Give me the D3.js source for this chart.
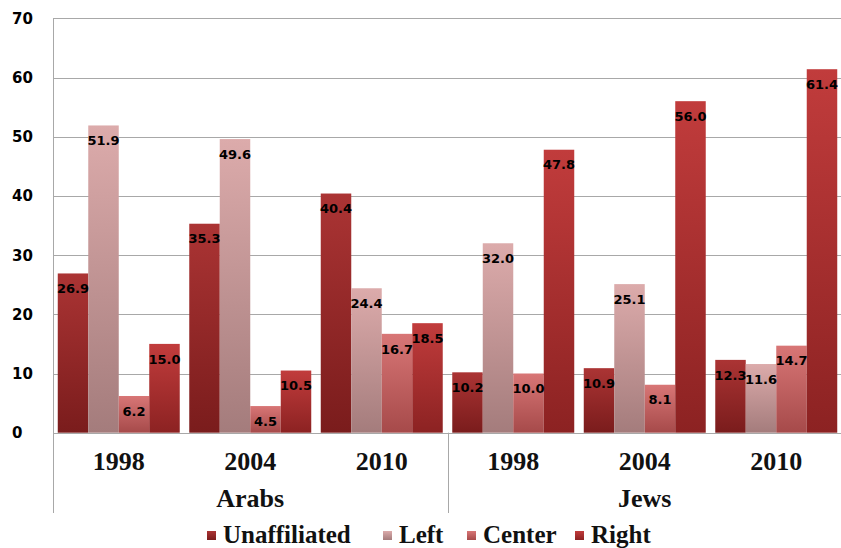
<!DOCTYPE html>
<html>
<head>
<meta charset="utf-8">
<script src="https://cdn.jsdelivr.net/npm/d3@7"></script>
<style>
html,body{margin:0;padding:0;background:#fff;}
svg{display:block;}
</style>
</head>
<body>
<svg id="chart" width="841" height="548"></svg>
<script>
const years = ["1998","2004","2010","1998","2004","2010"];
const populations = ["Arabs","Jews"];
const seriesNames = ["Unaffiliated","Left","Center","Right"];
const unaffiliated = [26.9,35.3,40.4,10.2,10.9,12.3];
const left = [51.9,49.6,24.4,32.0,25.1,11.6];
const center = [6.2,4.5,16.7,10.0,8.1,14.7];
const right = [15.0,10.5,18.5,47.8,56.0,61.4];
const yTicks = [0,10,20,30,40,50,60,70];

const seriesValues = [unaffiliated, left, center, right];
const gradStops = [
  ["#ab3434","#7a1c1c"],
  ["#dcabab","#a47c7c"],
  ["#d87676","#a64a4a"],
  ["#c13c3c","#8c2222"]
];

const svg = d3.select("#chart");
const W = 841, H = 548;
const plotL = 53, plotR = 842, plotT = 18.3, plotB = 432.7;

const x0 = d3.scaleBand().domain(d3.range(years.length)).range([plotL, plotR]).paddingInner(0).paddingOuter(0);
const x1 = d3.scaleBand().domain(seriesNames).range([0, x0.bandwidth()]).paddingInner(0).paddingOuter(0.156);
const y = d3.scaleLinear().domain([0,70]).range([plotB, plotT]);

const defs = svg.append("defs");
seriesNames.forEach((s,i)=>{
  const g = defs.append("linearGradient").attr("id","g"+i).attr("x1",0).attr("y1",0).attr("x2",0).attr("y2",1);
  g.append("stop").attr("offset","0%").attr("stop-color",gradStops[i][0]);
  g.append("stop").attr("offset","100%").attr("stop-color",gradStops[i][1]);
});

svg.append("g").selectAll("line").data(yTicks).join("line")
  .attr("x1", plotL).attr("x2", W)
  .attr("y1", d=>Math.round(y(d))+0.5).attr("y2", d=>Math.round(y(d))+0.5)
  .attr("stroke","#a8a8a8").attr("stroke-width",1);

svg.append("line").attr("x1",plotL+0.5).attr("x2",plotL+0.5).attr("y1",plotT).attr("y2",513)
  .attr("stroke","#a8a8a8");
const sepX = x0(3);
svg.append("line").attr("x1",Math.round(sepX)+0.5).attr("x2",Math.round(sepX)+0.5).attr("y1",plotB).attr("y2",513)
  .attr("stroke","#a8a8a8");

svg.append("g").selectAll("text").data(yTicks).join("text")
  .attr("x", 12).attr("y", d=>y(d))
  .attr("dy","0.36em")
  .attr("font-family","'DejaVu Sans', Verdana, sans-serif")
  .attr("font-weight","bold").attr("font-size","15px").attr("fill","#000")
  .text(d=>d);

const barsG = svg.append("g");
years.forEach((yr, gi)=>{
  seriesNames.forEach((s, si)=>{
    const v = seriesValues[si][gi];
    barsG.append("rect")
      .attr("x", x0(gi)+x1(s))
      .attr("y", y(v))
      .attr("width", x1.bandwidth())
      .attr("height", y(0)-y(v))
      .attr("fill", "url(#g"+si+")");
  });
});

const labG = svg.append("g");
years.forEach((yr, gi)=>{
  seriesNames.forEach((s, si)=>{
    const v = seriesValues[si][gi];
    labG.append("text")
      .attr("x", x0(gi)+x1(s)+x1.bandwidth()/2)
      .attr("y", y(v)+15)
      .attr("dy","0.36em")
      .attr("text-anchor","middle")
      .attr("font-family","'DejaVu Sans', Verdana, sans-serif")
      .attr("font-weight","bold").attr("font-size","13px")
      .attr("fill","#000")
      .text(v.toFixed(1));
  });
});

svg.append("g").selectAll("text").data(years).join("text")
  .attr("x",(d,i)=>x0(i)+x0.bandwidth()/2)
  .attr("y",470)
  .attr("text-anchor","middle")
  .attr("font-family","'Liberation Serif', 'Times New Roman', serif")
  .attr("font-weight","bold").attr("font-size","26px").attr("fill","#111")
  .text(d=>d);

svg.append("g").selectAll("text").data(populations).join("text")
  .attr("x",(d,i)=> (x0(i*3) + x0(i*3+2)+x0.bandwidth())/2)
  .attr("y",507)
  .attr("text-anchor","middle")
  .attr("font-family","'Liberation Serif', 'Times New Roman', serif")
  .attr("font-weight","bold").attr("font-size","26px").attr("fill","#111")
  .text(d=>d);

const legX = [207, 383, 467, 575];
const legG = svg.append("g");
seriesNames.forEach((s,i)=>{
  legG.append("rect").attr("x",legX[i]).attr("y",531).attr("width",9).attr("height",9)
    .attr("fill","url(#g"+i+")");
  legG.append("text").attr("x",legX[i]+16).attr("y",543)
    .attr("font-family","'Liberation Serif', 'Times New Roman', serif")
    .attr("font-weight","bold").attr("font-size","25px").attr("fill","#111")
    .text(s);
});
</script>
</body>
</html>
